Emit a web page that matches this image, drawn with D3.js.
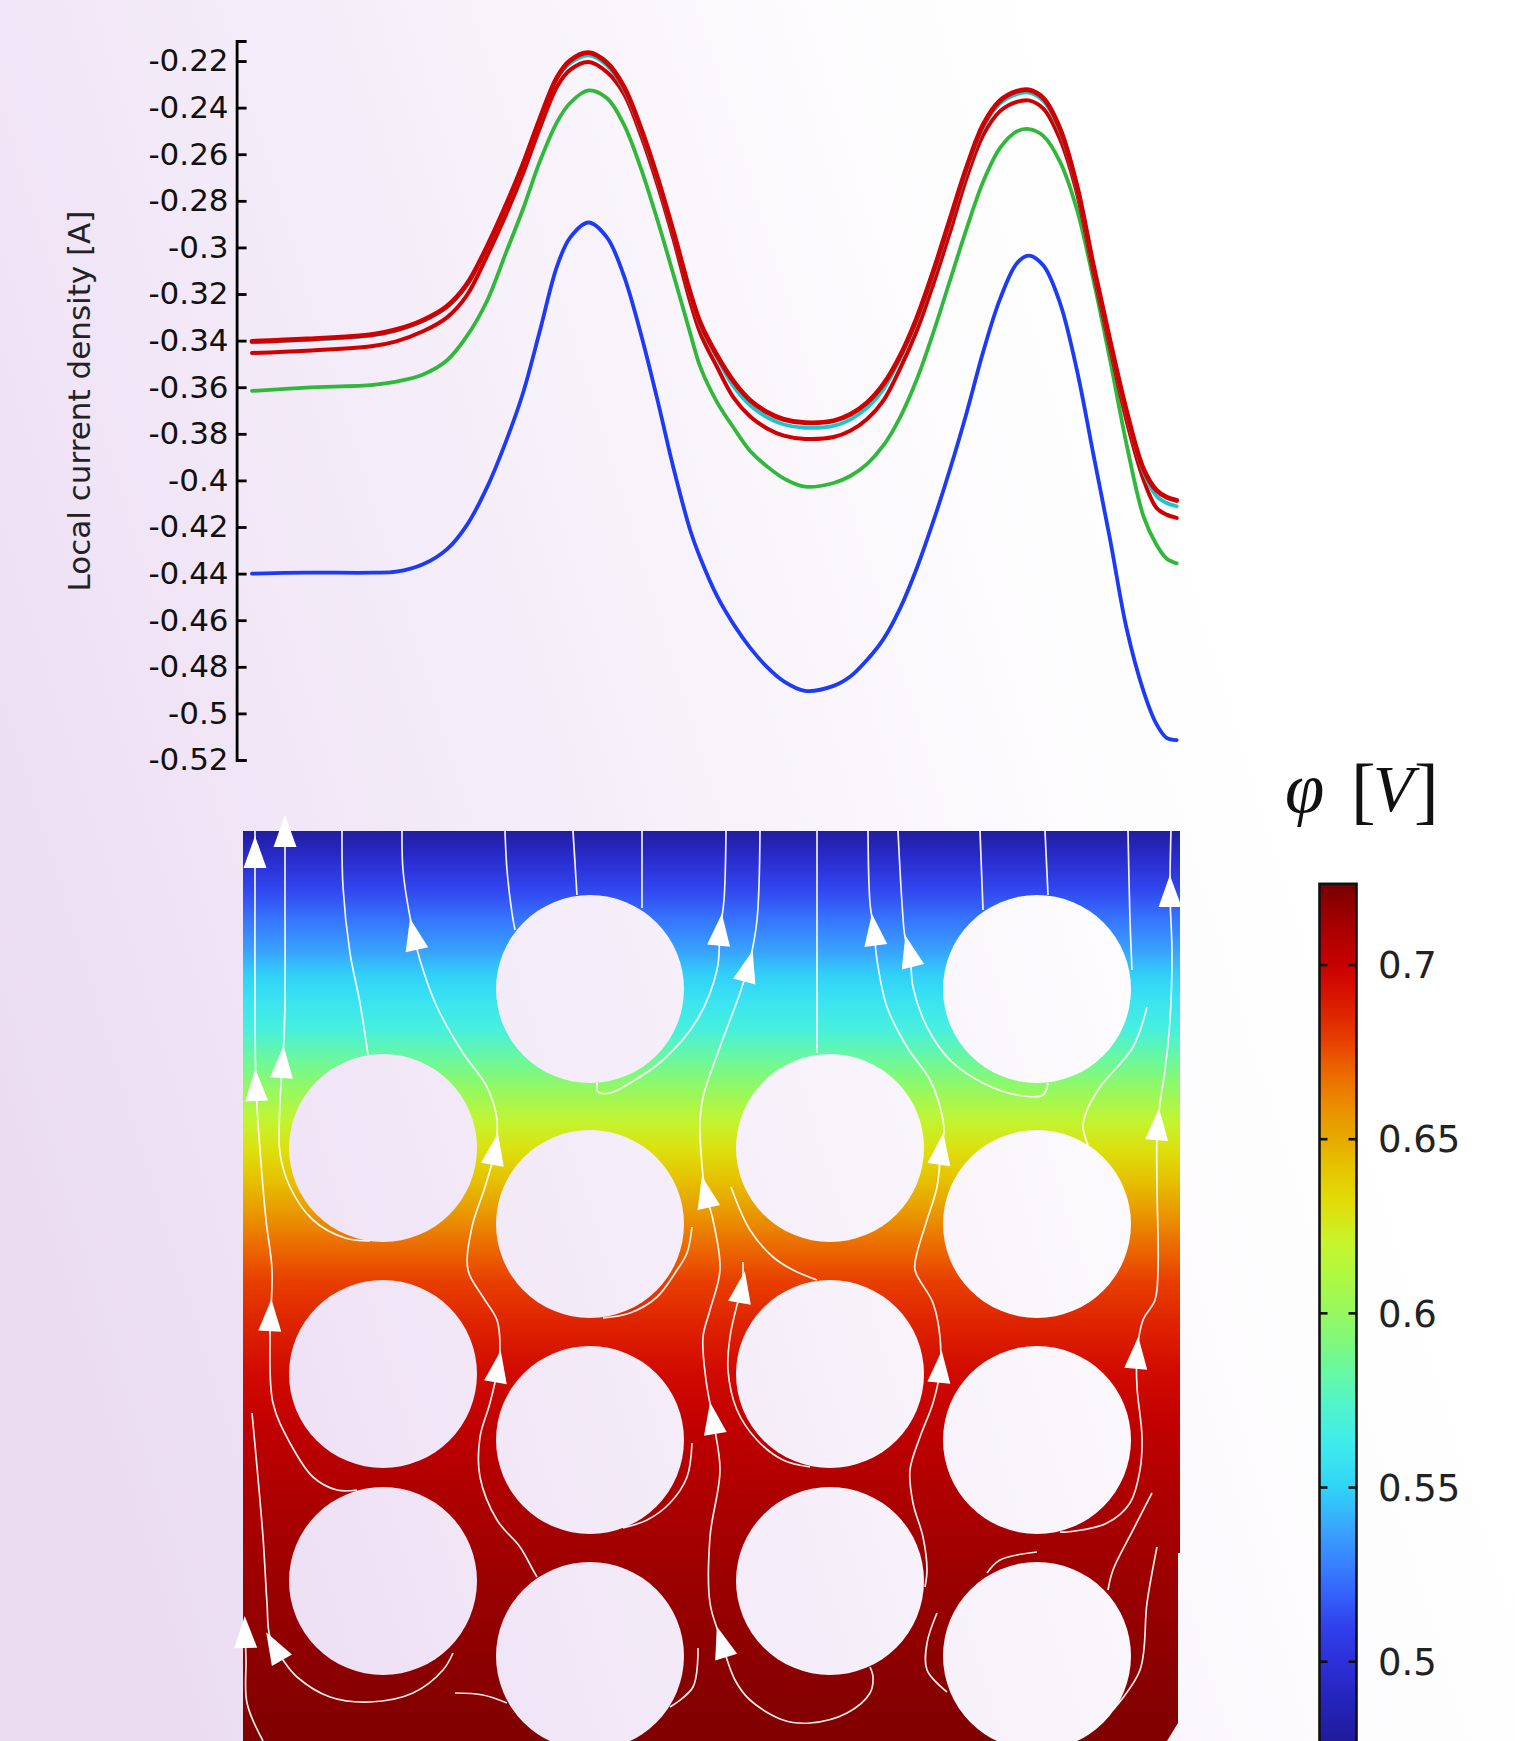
<!DOCTYPE html>
<html><head><meta charset="utf-8">
<script src="https://cdn.jsdelivr.net/npm/d3@7"></script>
<style>html,body{margin:0;padding:0;overflow:hidden;background:#fff}</style>
</head><body>
<svg id="c" width="1515" height="1741" xmlns="http://www.w3.org/2000/svg"></svg>
<script>
// ---------------- DATA ----------------
// arc position along the evaluation line (normalised 0..1)
const arcPos = [0.000,0.059,0.131,0.156,0.185,0.211,0.232,0.254,0.275,0.293,0.311,0.330,0.344,0.364,0.384,0.402,0.420,0.438,0.456,0.474,0.485,0.503,0.521,0.539,0.557,0.575,0.598,0.629,0.647,0.665,0.683,0.701,0.719,0.737,0.755,0.773,0.791,0.809,0.827,0.840,0.856,0.874,0.892,0.910,0.928,0.946,0.964,0.978,0.989,1.000];
const blueVals  = [-0.440,-0.4396,-0.4396,-0.4392,-0.436,-0.4295,-0.4194,-0.4031,-0.3829,-0.3626,-0.3363,-0.3079,-0.2958,-0.2893,-0.2958,-0.312,-0.3363,-0.3647,-0.395,-0.4215,-0.4335,-0.4497,-0.4619,-0.472,-0.4801,-0.4862,-0.4903,-0.4882,-0.4842,-0.4771,-0.468,-0.4548,-0.4376,-0.4173,-0.395,-0.3707,-0.3444,-0.3221,-0.3069,-0.3035,-0.3079,-0.3241,-0.3525,-0.389,-0.4254,-0.4639,-0.4903,-0.5045,-0.5105,-0.5115];
const greenVals = [-0.3616,-0.3602,-0.359,-0.3576,-0.3545,-0.3484,-0.3383,-0.3231,-0.3019,-0.2836,-0.2634,-0.2461,-0.238,-0.2326,-0.236,-0.2471,-0.2654,-0.2877,-0.312,-0.337,-0.3515,-0.3665,-0.3775,-0.3875,-0.394,-0.3991,-0.4027,-0.4011,-0.3981,-0.393,-0.3849,-0.3728,-0.3566,-0.3363,-0.314,-0.2917,-0.2715,-0.2573,-0.2502,-0.2492,-0.2522,-0.2634,-0.2836,-0.314,-0.3484,-0.3849,-0.4153,-0.4275,-0.4335,-0.4356];
const redLowVals = [-0.3453,-0.3443,-0.3423,-0.3403,-0.336,-0.33,-0.3208,-0.3038,-0.2856,-0.2684,-0.2491,-0.2309,-0.2238,-0.2204,-0.2248,-0.2339,-0.2512,-0.2724,-0.2967,-0.3235,-0.337,-0.3514,-0.3646,-0.3727,-0.3777,-0.3808,-0.3822,-0.3814,-0.3787,-0.3737,-0.3656,-0.3519,-0.3357,-0.3155,-0.2932,-0.2699,-0.2516,-0.2415,-0.2375,-0.2369,-0.2405,-0.2537,-0.2765,-0.311,-0.3433,-0.3747,-0.3995,-0.4117,-0.4147,-0.4161];
const cyanVals  = [-0.3407,-0.3397,-0.3377,-0.3357,-0.3316,-0.3256,-0.3164,-0.3002,-0.282,-0.2648,-0.2455,-0.2273,-0.221,-0.2176,-0.222,-0.2319,-0.2492,-0.2704,-0.2947,-0.3205,-0.3335,-0.3474,-0.3598,-0.3679,-0.3729,-0.376,-0.3774,-0.3766,-0.3739,-0.3689,-0.3608,-0.3476,-0.3314,-0.3112,-0.2889,-0.2666,-0.2483,-0.2382,-0.2342,-0.2336,-0.2372,-0.2504,-0.2747,-0.3092,-0.3415,-0.3719,-0.3962,-0.4067,-0.4097,-0.4111];
const redTopVals = [-0.3403,-0.3393,-0.3373,-0.3353,-0.3312,-0.3252,-0.316,-0.2998,-0.2816,-0.2644,-0.2451,-0.2269,-0.2198,-0.2164,-0.2208,-0.2309,-0.2482,-0.2694,-0.2937,-0.3195,-0.3325,-0.3464,-0.3576,-0.3657,-0.3707,-0.3738,-0.3752,-0.3744,-0.3717,-0.3667,-0.3586,-0.3464,-0.3302,-0.31,-0.2877,-0.2654,-0.2471,-0.237,-0.233,-0.2324,-0.236,-0.2492,-0.2735,-0.308,-0.3403,-0.3707,-0.395,-0.4042,-0.4072,-0.4086];

const yTickValues = [-0.52,-0.50,-0.48,-0.46,-0.44,-0.42,-0.40,-0.38,-0.36,-0.34,-0.32,-0.30,-0.28,-0.26,-0.24,-0.22];
const yTickLabels = ["-0.52","-0.5","-0.48","-0.46","-0.44","-0.42","-0.4","-0.38","-0.36","-0.34","-0.32","-0.3","-0.28","-0.26","-0.24","-0.22"];
const yTitle = "Local current density [A]";

// colour map (potential value -> colour)
const cmapVals = [0.47,0.478,0.489,0.500,0.510,0.520,0.529,0.539,0.550,0.563,0.573,0.582,0.592,0.600,0.611,0.621,0.632,0.642,0.650,0.657,0.664,0.671,0.678,0.685,0.692,0.700,0.707,0.715,0.7225,0.7235];
const cmapColors = ['#1c1890','#201c9c','#2424bc','#2c30d8','#3040ec','#3464fc','#3884ff','#38a8fc','#30d4f8','#40ecec','#50f4cc','#64f8a8','#80f87c','#96f860','#b0f840','#c8f42a','#e2dc08','#e6c400','#e6aa00','#ea9600','#ec7c00','#ec6000','#e84000','#e02800','#d81200','#c80000','#b40000','#990000','#7a0000','#780000'];
const cbTicks = [0.5,0.55,0.6,0.65,0.7];
const cbTickLabels = ["0.5","0.55","0.6","0.65","0.7"];
const cbMax = 0.7233, cbMin = 0.47;

// potential field (µm below top edge of domain -> potential V)
const fieldDepth = [0,29,59,89,119,144,169,199,229,259,289,319,349,379,414,449,489,539,599,669,749,829,910];
const fieldPhi   = [0.479,0.497,0.512,0.525,0.537,0.549,0.558,0.568,0.585,0.600,0.618,0.630,0.643,0.655,0.668,0.678,0.686,0.695,0.703,0.709,0.714,0.718,0.721];

// domain outline (µm)
const domainOutline = [[0,0],[937,0],[937,722],[935,722],[935,892],[924,910],[0,910]];
// particles (centre x, centre y) µm, radius µm
const particleX = [347,794,140,587,347,794,140,587,347,794,140,587,347,794];
const particleY = [158,158,317,317,393,393,543,543,609,609,750,750,825,825];
const particleR = 94;

// streamlines (µm)
const streamlines = [
 [[12,0],[12,69],[12,169],[13,255],[17,319],[23,389],[29,439],[27,506],[30,572],[47,612],[70,646],[94,659],[114,659]],
 [[42,0],[42,69],[42,169],[41,206],[39,239],[37,272],[37,322],[47,356],[70,389],[102,407],[127,410]],
 [[99,0],[100,56],[107,122],[117,172],[125,224]],
 [[159,0],[160,39],[167,86],[177,129],[194,176],[220,222],[244,256],[254,289],[252,319],[242,356],[229,396],[225,439],[240,466],[254,489],[257,516],[255,536],[247,572],[237,606],[237,646],[254,689],[277,716],[290,739],[294,746]],
 [[262,0],[264,39],[269,82],[272,99]],
 [[330,0],[334,64]],
 [[399,0],[399,77]],
 [[483,0],[481,69],[477,101],[474,139],[454,189],[420,229],[387,252],[367,262],[355,261],[354,252]],
 [[517,0],[514,89],[507,129],[497,162],[477,216],[460,266],[457,289],[458,322],[462,359],[470,389],[477,439],[467,479],[460,506],[463,549],[470,589],[477,639],[467,706],[467,772],[477,806],[492,849],[507,869],[540,889],[567,892],[604,882],[627,862],[630,846],[627,836]],
 [[449,396],[444,422],[434,439],[414,466],[387,482],[360,487]],
 [[574,0],[574,222]],
 [[625,0],[627,72],[631,100],[634,129],[644,176],[664,216],[687,249],[697,276],[701,299],[698,319],[694,356],[684,389],[674,422],[672,439],[690,472],[697,506],[697,539],[690,572],[677,606],[667,639],[670,672],[680,706],[684,739],[682,756]],
 [[655,0],[659,72],[662,106],[667,124],[670,156],[684,196],[707,229],[740,252],[774,264],[800,264],[805,252]],
 [[737,0],[740,79]],
 [[802,0],[805,64]],
 [[885,0],[887,89],[889,139]],
 [[928,0],[927,62],[929,122],[927,189],[922,239],[917,272],[914,306],[914,356],[915,439],[912,469],[900,489],[894,522],[894,556],[899,606],[897,639],[887,672],[864,692],[824,701],[817,701]],
 [[904,176],[890,216],[857,256],[844,279],[840,296],[845,314]],
 [[488,356],[507,399],[530,426],[550,439],[574,449]],
 [[500,431],[499,457],[494,474],[487,506],[485,539],[494,579],[514,609],[540,629],[567,636]],
 [[449,612],[444,646],[427,672],[404,689],[380,697]],
 [[9,582],[20,706],[24,772],[27,806],[40,829],[54,846],[87,866],[127,871],[170,862],[200,839],[210,822]],
 [[2,794],[3,829],[4,872],[20,910]],
 [[212,862],[240,864],[264,872]],
 [[455,817],[450,856],[427,876]],
 [[794,721],[757,729],[744,742]],
 [[909,662],[890,699],[870,739],[865,759]],
 [[914,716],[904,772],[897,839],[870,879]],
 [[694,782],[684,812],[684,839],[704,861]]
];
// arrow markers: [streamline index, x, y] (µm)
const arrowLine = [0,0,0,1,1,3,3,3,7,8,8,8,8,11,11,11,12,16,16,16,19,21,22];
const arrowX    = [12,13,28,42,42,173,252,255,477,507,468,468,482,631,697,697,665,926,912,890,498,34,2];
const arrowY    = [22,255,485,1,232,104,319,536,100,137,361,588,811,100,319,537,121,61,294,522,457,815,802];

// ---------------- DRAW ----------------
const svg = d3.select('#c');
const defs = svg.append('defs');

const bg = defs.append('linearGradient').attr('id','bg').attr('gradientUnits','userSpaceOnUse')
  .attr('x1',0).attr('y1',1100).attr('x2',1300).attr('y2',700);
[[0,'#ebdcf2'],[0.3,'#f2e8f7'],[0.6,'#f8f3fb'],[0.85,'#fefdfe'],[1,'#ffffff']]
  .forEach(s=>bg.append('stop').attr('offset',s[0]).attr('stop-color',s[1]));
svg.append('rect').attr('width',1515).attr('height',1741).attr('fill','url(#bg)');

// ---- line chart
const x = d3.scaleLinear([0,1],[252,1176.7]);
const y = d3.scaleLinear([-0.52,-0.2114],[760,41]);
const lineGen = d3.line().x((d,i)=>x(arcPos[i])).y(d=>y(d)).curve(d3.curveCatmullRom.alpha(0.5));
const series = [
  {v:blueVals,  c:'#1d3af5', w:3.8},
  {v:greenVals, c:'#2fb83a', w:3.8},
  {v:redLowVals,c:'#cf0000', w:4.0},
  {v:cyanVals,  c:'#19c6cc', w:3.8},
  {v:redTopVals,c:'#cf0000', w:4.8}
];
svg.append('g').selectAll('path').data(series).join('path')
  .attr('d',d=>lineGen(d.v)).attr('fill','none').attr('stroke',d=>d.c)
  .attr('stroke-width',d=>d.w).attr('stroke-linejoin','round').attr('stroke-linecap','round');

const axis = d3.axisLeft(y).tickValues(yTickValues).tickFormat((d,i)=>yTickLabels[i])
  .tickSizeInner(-10).tickSizeOuter(-10).tickPadding(8);
const gA = svg.append('g').attr('transform','translate(236.6,0)').call(axis)
  .attr('font-family','DejaVu Sans').attr('font-size',31);
gA.select('.domain').attr('stroke','#000').attr('stroke-width',2.8);
gA.selectAll('.tick line').attr('stroke','#000').attr('stroke-width',2.8);
gA.selectAll('.tick text').attr('fill','#111');
svg.append('text').attr('transform','translate(90,401) rotate(-90)')
  .attr('text-anchor','middle').attr('font-family','DejaVu Sans').attr('font-size',31)
  .attr('fill','#222').text(yTitle);

// ---- colour scale
const cmap = d3.scaleLinear().domain(cmapVals).range(cmapColors).interpolate(d3.interpolateRgb).clamp(true);

// ---- field
const fx = d3.scaleLinear([0,937],[243,1180]);
const fy = d3.scaleLinear([0,910],[831,1741]);
const fg = defs.append('linearGradient').attr('id','fieldGrad').attr('gradientUnits','userSpaceOnUse')
  .attr('x1',0).attr('x2',0).attr('y1',fy(0)).attr('y2',fy(910));
fieldDepth.forEach((d,i)=>fg.append('stop').attr('offset',(fy(d)-fy(0))/(fy(910)-fy(0))).attr('stop-color',cmap(fieldPhi[i])));
const outline = d3.line().x(d=>fx(d[0])).y(d=>fy(d[1]));
svg.append('path').attr('d',outline(domainOutline)+'Z').attr('fill','url(#fieldGrad)');
defs.append('clipPath').attr('id','fclip').append('path').attr('d',outline(domainOutline)+'Z');

svg.append('g').selectAll('circle').data(particleX).join('circle')
  .attr('cx',d=>fx(d)).attr('cy',(d,i)=>fy(particleY[i])).attr('r',fx(particleR)-fx(0))
  .attr('fill','url(#bg)');

const sGen = d3.line().x(d=>fx(d[0])).y(d=>fy(d[1])).curve(d3.curveCatmullRom.alpha(0.5));
const sPaths = svg.append('g').attr('clip-path','url(#fclip)').selectAll('path').data(streamlines).join('path')
  .attr('d',sGen).attr('fill','none').attr('stroke','#ffffff').attr('stroke-opacity',0.92).attr('stroke-width',1.7);
const nodes = sPaths.nodes();
const ag = svg.append('g');
arrowLine.forEach((li,k)=>{
  const node = nodes[li], L = node.getTotalLength();
  const px = fx(arrowX[k]), py = fy(arrowY[k]);
  let best=0, bd=1e9;
  for(let s=0;s<=L;s+=1){const p=node.getPointAtLength(s);const dd=(p.x-px)**2+(p.y-py)**2;if(dd<bd){bd=dd;best=s;}}
  const p0=node.getPointAtLength(Math.max(0,best-6)), p1=node.getPointAtLength(Math.min(L,best+6));
  let dx=p0.x-p1.x, dy=p0.y-p1.y; const n=Math.hypot(dx,dy)||1; dx/=n; dy/=n;
  const c=node.getPointAtLength(best);
  const tip=[c.x+dx*17,c.y+dy*17], bx=c.x-dx*15, by=c.y-dy*15;
  const b1=[bx-dy*11.5,by+dx*11.5], b2=[bx+dy*11.5,by-dx*11.5];
  ag.append('path').attr('d',`M${tip}L${b1}L${b2}Z`).attr('fill','#ffffff');
});

// ---- colour bar
const cb = d3.scaleLinear([0.5,0.7],[1661.7,965]);
const cbg = defs.append('linearGradient').attr('id','cbGrad').attr('gradientUnits','userSpaceOnUse')
  .attr('x1',0).attr('x2',0).attr('y1',cb(cbMax)).attr('y2',cb(cbMin));
const cbStops = cmapVals.map((v,i)=>({o:Math.max(0,Math.min(1,(cb(v)-cb(cbMax))/(cb(cbMin)-cb(cbMax)))),c:cmapColors[i]}))
  .sort((a,b)=>a.o-b.o);
cbStops.forEach(s=>cbg.append('stop').attr('offset',s.o).attr('stop-color',s.c));
svg.append('rect').attr('x',1319.5).attr('y',cb(cbMax)).attr('width',37).attr('height',cb(cbMin)-cb(cbMax))
  .attr('fill','url(#cbGrad)').attr('stroke','#111').attr('stroke-width',2.6);
const tg = svg.append('g');
cbTicks.forEach((v,i)=>{
  tg.append('line').attr('x1',1319.5).attr('x2',1327.5).attr('y1',cb(v)).attr('y2',cb(v)).attr('stroke','#111').attr('stroke-width',2.6);
  tg.append('line').attr('x1',1348.5).attr('x2',1356.5).attr('y1',cb(v)).attr('y2',cb(v)).attr('stroke','#111').attr('stroke-width',2.6);
  tg.append('text').attr('x',1378).attr('y',cb(v)).attr('dy','0.36em').attr('font-family','DejaVu Sans')
    .attr('font-size',37).attr('fill','#222').text(cbTickLabels[i]);
});
const tt = svg.append('text').attr('font-family','Liberation Serif').attr('fill','#111');
tt.append('tspan').attr('x',1285).attr('y',812).attr('font-size',71).attr('font-style','italic').text('φ');
tt.append('tspan').attr('x',1351).attr('y',815).attr('font-size',74).text('[');
tt.append('tspan').attr('x',1373).attr('y',811).attr('font-size',66).attr('font-style','italic').text('V');
tt.append('tspan').attr('x',1414).attr('y',815).attr('font-size',74).text(']');
</script>
</body></html>
